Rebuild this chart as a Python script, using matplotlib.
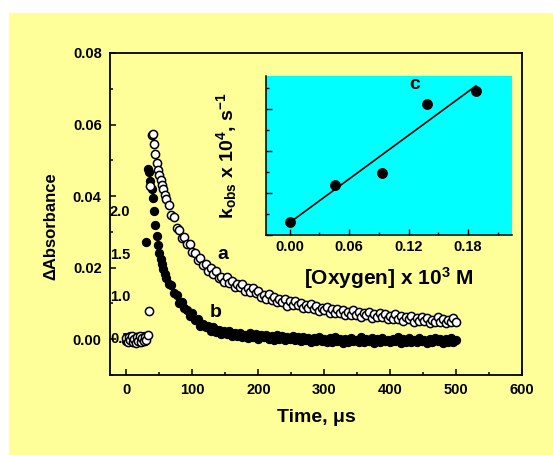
import numpy as np
import matplotlib
matplotlib.use("Agg")
import matplotlib.pyplot as plt
from matplotlib.patches import Rectangle
from matplotlib.ticker import MultipleLocator, FormatStrFormatter, NullFormatter

plt.rcParams['font.family'] = 'Liberation Sans'
plt.rcParams['font.weight'] = 'bold'
plt.rcParams['axes.labelweight'] = 'bold'
plt.rcParams['mathtext.fontset'] = 'custom'
plt.rcParams['mathtext.rm'] = 'Liberation Sans:bold'
plt.rcParams['mathtext.it'] = 'Liberation Sans:bold'
plt.rcParams['mathtext.bf'] = 'Liberation Sans:bold'
plt.rcParams['mathtext.default'] = 'bf'

# sampling grid of the transients (us): 2 us up to 60, then every 4th point
t_early = np.arange(0, 62, 2)
t_late = np.arange(64, 504, 4)
time = np.concatenate([t_early, t_late])

# absorbance change, in units of 1e-3
a_early = [0.4, -0.9, 0.6, -0.3, 1.0, -0.7, 0.2, -1.1, 0.5, -0.4,
           0.9, -0.8, 0.3, -0.6, 0.7, -0.2, 1.3, 7.9, 42.7, 57.2,
           57.4, 54.6, 51.9, 49.3, 47.4, 45.8, 44.6, 43.0, 41.9, 40.3,
           39.1]
a_late = [37.6, 34.6, 34.2, 31.1, 30.4, 28.2, 28.5, 26.7, 26.6, 24.4,
          24.2, 22.1, 22.6, 20.8, 20.9, 19.0, 19.9, 18.3, 19.1, 17.2,
          17.5, 16.1, 17.3, 15.7, 16.3, 14.7, 15.5, 14.7, 15.3, 13.4,
          14.4, 13.2, 14.2, 12.8, 13.4, 11.8, 12.4, 11.3, 12.6, 11.1,
          11.8, 10.3, 11.2, 10.5, 11.2, 9.4, 10.6, 9.5, 10.7, 9.5,
          10.2, 8.8, 9.5, 8.6, 9.9, 8.5, 9.2, 7.8, 8.8, 8.2,
          8.9, 7.2, 8.4, 7.3, 8.5, 7.3, 8.2, 6.8, 7.6, 6.7,
          8.2, 6.8, 7.6, 6.3, 7.3, 6.7, 7.5, 5.9, 7.1, 6.1,
          7.3, 6.2, 7.0, 5.6, 6.4, 5.6, 7.0, 5.6, 6.5, 5.1,
          6.1, 5.6, 6.4, 4.7, 6.0, 5.0, 6.3, 5.1, 6.0, 4.6,
          5.5, 4.7, 6.1, 4.8, 5.7, 4.4, 5.4, 4.9, 5.8, 4.8]

b_early = [-0.6, 0.5, -0.2, 0.8, -0.9, 0.3, -0.5, 0.7, -0.3, 0.4,
           -0.8, 0.6, -0.1, 0.9, -0.4, 27.1, 47.6, 46.8, 44.2, 42.1,
           39.6, 35.8, 31.9, 28.9, 26.3, 24.1, 22.3, 20.9, 19.5, 18.3,
           17.2]
b_late = [15.3, 15.2, 13.0, 12.4, 10.2, 10.5, 8.7, 8.2, 6.6, 7.3,
          5.4, 5.6, 3.8, 4.3, 3.4, 3.8, 2.4, 3.3, 2.1, 2.6,
          1.4, 2.3, 1.5, 2.4, 0.8, 1.7, 0.9, 1.8, 0.7, 1.3,
          0.4, 1.7, 0.6, 1.4, 0.1, 1.2, 0.5, 1.3, 0.1, 0.9,
          -0.1, 1.2, 0.1, 0.9, -0.3, 0.5, 0.0, 1.0, -0.3, 0.5,
          -0.5, 0.6, -0.2, 0.3, -0.8, 0.4, -0.6, 0.5, -0.5, 0.0,
          -0.8, 0.4, -0.8, 0.5, -0.5, 0.0, -1.0, 0.1, -0.7, 0.4,
          -0.6, -0.2, -0.9, 0.5, -0.8, 0.0, -0.5, 0.3, -1.0, 0.1,
          -0.7, 0.4, -0.6, -0.1, -0.9, 0.2, -0.5, 0.5, -1.0, 0.0,
          -0.7, 0.3, -0.8, -0.2, -0.9, 0.4, -0.6, -0.1, -1.0, 0.1,
          -0.8, 0.3, -0.5, 0.2, -1.1, 0.0, -0.7, 0.3, -0.8, -0.1]

abs_a = np.array(a_early + a_late) / 1000.
abs_b = np.array(b_early + b_late) / 1000.

# inset: kobs vs oxygen
oxygen = [0.0, 0.046, 0.093, 0.139, 0.188]
kobs = [0.66, 1.10, 1.24, 2.06, 2.22]
inset_ticks = [0.5, 1.0, 1.5, 2.0]

fig = plt.figure(figsize=(5.53, 4.55), dpi=100)
fig.patches.append(Rectangle((9/553., 0), 1, 1 - 13/455., transform=fig.transFigure,
                             color='#FFFF99', zorder=-10))

ax = fig.add_axes([110/553., 1 - 375/455., 412/553., 322/455.])
ax.set_facecolor('none')
ax.plot(time, abs_b, 'o', ms=5.9, mfc='black', mec='black', mew=0.8, zorder=3)
ax.plot(time, abs_a, 'o', ms=5.9, mfc='white', mec='black', mew=1.1, zorder=4)
ax.set_xlim(-25, 600)
ax.set_ylim(-0.01, 0.08)
ax.xaxis.set_major_locator(MultipleLocator(100))
ax.xaxis.set_minor_locator(MultipleLocator(50))
ax.yaxis.set_major_locator(MultipleLocator(0.02))
ax.yaxis.set_minor_locator(MultipleLocator(0.01))
ax.yaxis.set_major_formatter(FormatStrFormatter('%.2f'))
ax.tick_params(which='both', direction='in', width=1.1, labelsize=10.5)
ax.tick_params(which='major', length=4)
ax.tick_params(which='minor', length=2.5)
ax.tick_params(axis='y', pad=6)
ax.tick_params(axis='x', pad=5.5)
for s in ax.spines.values():
    s.set_linewidth(1.3)

ax.text(146, 0.0236, 'a', fontsize=14, ha='center', va='center')
ax.text(136, 0.0075, 'b', fontsize=14, ha='center', va='center')

# stray tick labels of the inset axis left on the main panel
for v in inset_ticks:
    ax.text(0.0, (v - 0.5) * 0.02367, '%.1f' % v, transform=ax.get_yaxis_transform(),
            fontsize=10.5, ha='left', va='center', zorder=1)

fig.text(51/553., 1 - 226/455., u'\u0394Absorbance', rotation=90, fontsize=12,
         ha='center', va='center')
fig.text(316/553., 1 - 417/455., u'Time, \u03bcs', fontsize=14, ha='center', va='center')

ins = fig.add_axes([265.7/553., 1 - 235/455., 246/553., 159.3/455.])
ins.set_facecolor('#00FFFF')
ins.plot(oxygen, kobs, 'o', ms=6.8, color='black', zorder=3)
fit = np.polyfit(oxygen, kobs, 1)
xs = np.array([oxygen[0], oxygen[-1]])
ins.plot(xs, np.polyval(fit, xs), '-', color='black', lw=1.2)
ins.set_xlim(-0.024, 0.224)
ins.set_ylim(0.5, 2.4)
ins.xaxis.set_major_locator(MultipleLocator(0.06))
ins.xaxis.set_minor_locator(MultipleLocator(0.03))
ins.xaxis.set_major_formatter(FormatStrFormatter('%.2f'))
ins.yaxis.set_major_locator(MultipleLocator(0.5))
ins.yaxis.set_minor_locator(MultipleLocator(0.25))
ins.yaxis.set_major_formatter(NullFormatter())
ins.spines['top'].set_visible(False)
ins.spines['right'].set_visible(False)
for s in ['left', 'bottom']:
    ins.spines[s].set_linewidth(1.1)
ins.tick_params(which='both', direction='in', width=1.0, labelsize=10.5, pad=3.5)
ins.tick_params(which='major', length=4)
ins.tick_params(which='minor', length=2.5)
ins.text(0.126, 2.30, 'c', fontsize=14, ha='center', va='center')
ins.set_xlabel(r'[Oxygen] x 10$^{3}$ M', fontsize=15, fontweight='bold', labelpad=8)
ins.set_ylabel(r'k$_{obs}$ x 10$^{4}$, s$^{-1}$', fontsize=14, fontweight='bold', labelpad=16)

fig.savefig('out.png', dpi=100, facecolor='white')
